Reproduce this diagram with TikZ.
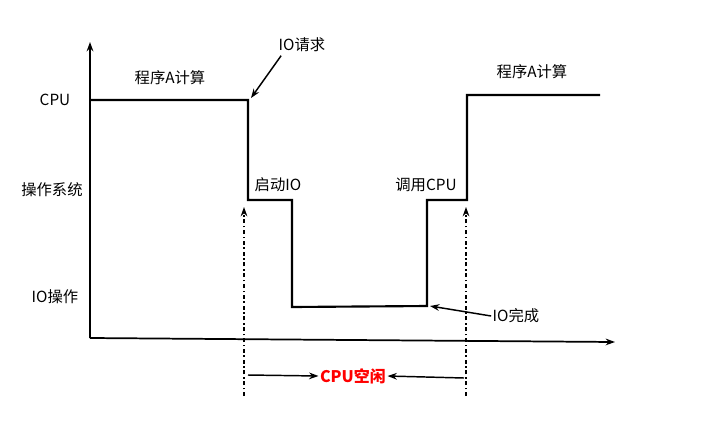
\documentclass[tikz,border=0pt]{standalone}
\usepackage{fontspec}
\setmainfont{Noto Sans CJK SC}
\usetikzlibrary{arrows.meta}
\begin{document}
\begin{tikzpicture}[x=0.75pt,y=-0.75pt,
  lbl/.style={font=\fontsize{11.5}{13}\selectfont,inner sep=1pt},
  sig/.style={line width=1.6pt},
  ax/.style={line width=1.3pt,-{Stealth[length=7pt,width=5pt]}},
  pt/.style={line width=1.1pt,-{Stealth[length=7pt,width=5pt]}},
  dd/.style={line width=1.1pt,dash dot}]
\useasboundingbox (0,0) rectangle (704,426);
\coordinate (o) at (90,338);
\coordinate (yt) at (90,42);
\coordinate (xt) at (615,342);
\draw[ax] (o) -- (yt);
\draw[ax] (o) -- (xt);
\node[lbl] (cpu) at (55,100) {CPU};
\node[lbl] (os) at (52,190) {操作系统};
\node[lbl] (io) at (55,297) {IO操作};
\draw[sig] (90,100) -- (248,100) -- (248,200) -- (292,200) -- (292,307) -- (427,306) -- (427,200) -- (467,200) -- (467,95) -- (600,95);
\node[lbl] (pa1) at (170,78) {程序A计算};
\node[lbl] (pa2) at (532,72) {程序A计算};
\node[lbl] (qd) at (278,185) {启动IO};
\node[lbl] (dy) at (426,185) {调用CPU};
\node[lbl] (req) at (302,45) {IO请求};
\node[lbl] (done) at (516,316) {IO完成};
\coordinate (reqe) at (251,98);
\coordinate (donee) at (430,306);
\draw[pt] (req.south west) ++(4,2) -- (reqe);
\draw[pt] (done.west) -- (donee);
\coordinate (d1t) at (244,207);
\coordinate (d1b) at (244,396);
\coordinate (d2t) at (466,207);
\coordinate (d2b) at (466,396);
\draw[dd,-{Stealth[length=7pt,width=5pt]}] (d1b) -- (d1t);
\draw[dd,-{Stealth[length=7pt,width=5pt]}] (d2b) -- (d2t);
\node[lbl,text=red,font=\bfseries\fontsize{12}{14}\selectfont] (idle) at (353,376) {CPU空闲};
\coordinate (a1) at (248,375);
\coordinate (a2) at (464,378);
\draw[pt] (a1) -- (idle.west);
\draw[pt] (a2) -- (idle.east);
\end{tikzpicture}
\end{document}
